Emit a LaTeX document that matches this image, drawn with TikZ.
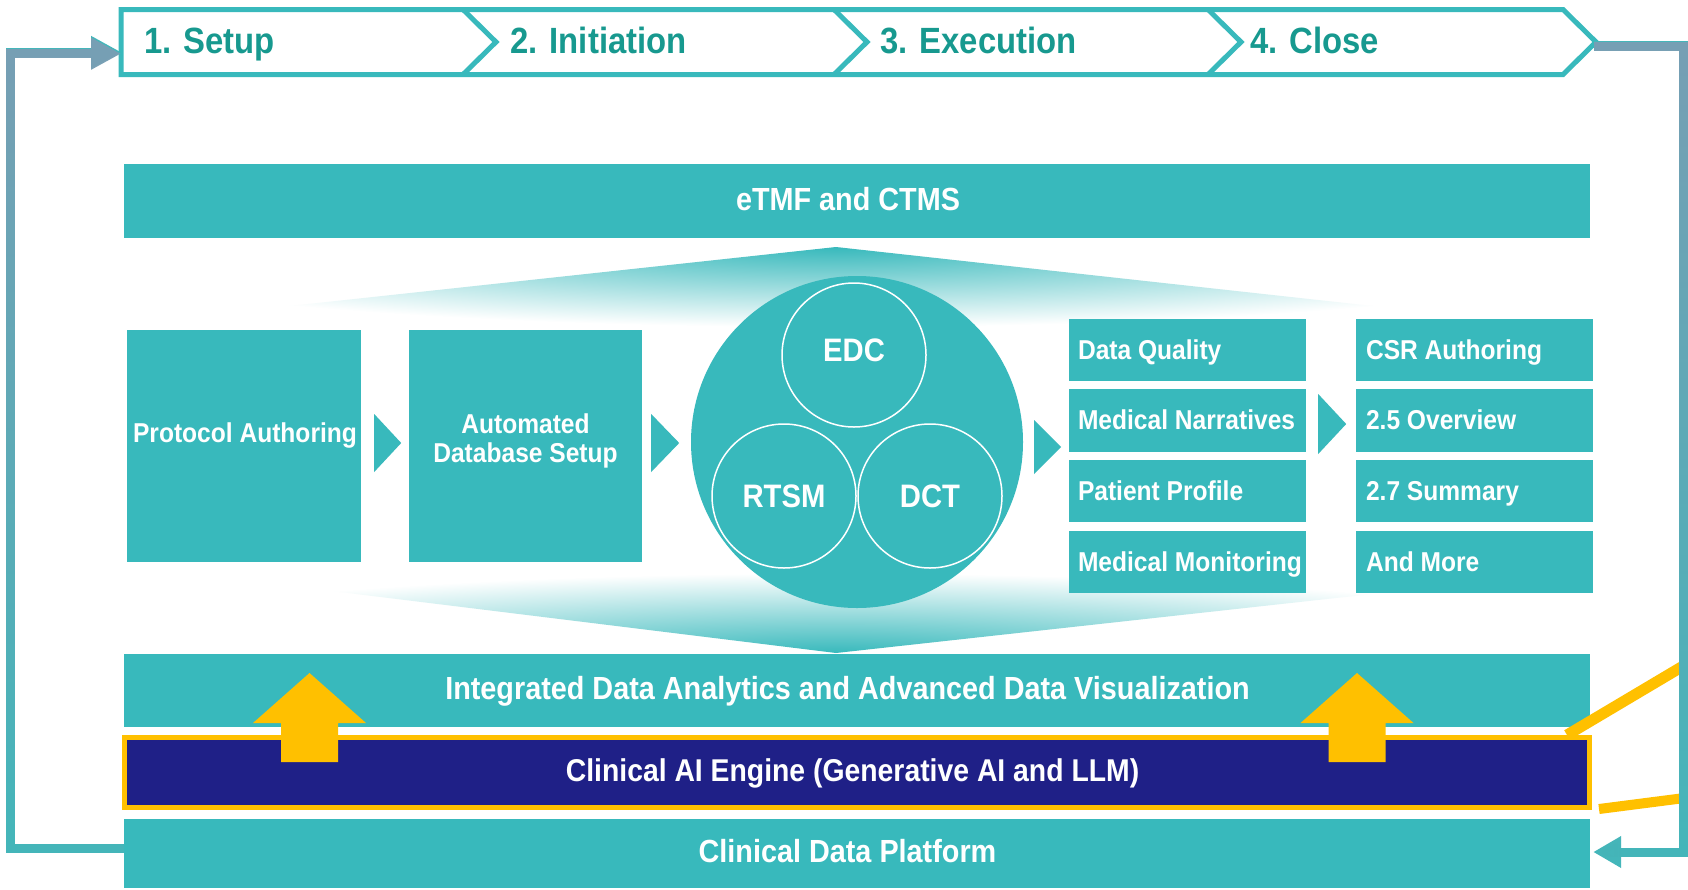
\documentclass[tikz,border=0pt]{standalone}
\usepackage{fontspec}
\setmainfont{Liberation Sans}[FakeStretch=0.9]
\usetikzlibrary{calc,arrows.meta,fadings}
\definecolor{tealc}{HTML}{38B9BC}
\definecolor{tealtxt}{HTML}{17998F}
\definecolor{navyc}{HTML}{1F2087}
\definecolor{yel}{HTML}{FFC000}
\definecolor{loopgray}{HTML}{779FB4}
\definecolor{loopteal}{HTML}{44B6BA}
\tikzfading[name=fadedown, top color=transparent!0, bottom color=transparent!100]
\begin{document}
\begin{tikzpicture}[x=1pt,y=-1pt,
 bandbar/.style={fill=tealc,text=white,inner sep=0pt,minimum width=1466pt,font=\bfseries\fontsize{32}{37}\selectfont,text height=22.9pt,text depth=4pt},
 boxc/.style={fill=tealc,inner sep=0pt},
 txt/.style={text=white,inner sep=0pt,font=\bfseries\fontsize{27.3}{29}\selectfont},
 capc/.style={text height=19.5pt,text depth=1pt},
 listbox/.style={boxc,minimum width=237pt,minimum height=62pt},
 subc/.style={circle,draw=white,line width=1.5pt,minimum size=144pt,inner sep=0pt,text=white,font=\bfseries\fontsize{32.5}{37}\selectfont,text height=23.3pt,text depth=0pt},
 stagelbl/.style={text=tealtxt,inner sep=0pt,font=\bfseries\fontsize{36.5}{42}\selectfont,anchor=base west},
 loopline/.style={line width=9pt,line join=miter},
 chev/.style={fill=tealc},
 uparrow/.style={fill=yel},
 calloutline/.style={draw=yel,line width=11pt},
]
\fill[white] (0,0) rectangle (1688,889);
\useasboundingbox (0,0) rectangle (1688,889);

% beams
\begin{scope}
 \clip (836,247) -- (58,331) -- (1600,331) -- cycle;
 \shade[inner color=tealc, outer color=white] (36,167) rectangle (1636,327);
\end{scope}
\begin{scope}
 \clip (836,653) -- (96,562) -- (1663,562) -- cycle;
 \shade[inner color=tealc, outer color=white] (36,573) rectangle (1636,733);
\end{scope}

% phase chevrons
\draw[tealc,line width=5pt,fill=white,line join=miter] (121,9.5) -- (1563,9.5) -- (1596,42) -- (1563,74.5) -- (121,74.5) -- cycle;
\draw[tealc,line width=5pt,line join=miter] (463,9.5) -- (496,42) -- (463,74.5);
\draw[tealc,line width=5pt,line join=miter] (834,9.5) -- (867,42) -- (834,74.5);
\draw[tealc,line width=5pt,line join=miter] (1208,9.5) -- (1241,42) -- (1208,74.5);
\node[stagelbl] (s1) at (144,53.5) {1. Setup};
\node[stagelbl] (s2) at (510,53.5) {2. Initiation};
\node[stagelbl] (s3) at (880,53.5) {3. Execution};
\node[stagelbl] (s4) at (1250,53.5) {4. Close};
\coordinate (hdrL) at (121,52);
\coordinate (hdrR) at (1594,45);

% bars
\node[bandbar,minimum height=74pt] (etmf) at (857,201) {eTMF and CTMS\hspace*{18pt}};
\node[bandbar,minimum height=73pt] (integ) at (857,690) {Integrated Data Analytics and Advanced Data Visualization\hspace*{19pt}};
\node[bandbar,fill=navyc,draw=yel,line width=5pt,minimum width=1465pt,minimum height=70pt,font=\bfseries\fontsize{31.5}{37}\selectfont] (ai) at (857,772.5) {Clinical AI Engine (Generative AI and LLM)\hspace*{9pt}};
\node[bandbar,minimum height=69pt] (cdp) at (857,853.5) {Clinical Data Platform\hspace*{19pt}};

% process boxes
\node[boxc,minimum width=234pt,minimum height=232pt] (proto) at (244,446) {};
\node[txt,capc] (protoT) at (245,433) {Protocol Authoring};
\node[boxc,minimum width=233pt,minimum height=232pt] (auto) at (525.5,446) {};
\node[txt,align=center] (autoT) at (525.5,441) {Automated\\Database Setup};

% hub circle
\node[circle,fill=tealc,minimum size=332pt,inner sep=0pt] (hub) at (857,442) {};
\node[subc,text depth=10pt] (edc) at (854,355) {EDC};
\node[subc] (rtsm) at (784,496) {RTSM};
\node[subc] (dct) at (930,496) {DCT};

% lists
\node[listbox] (dq) at (1187.5,350) {};
\node[listbox,minimum height=63pt] (mn) at (1187.5,420.5) {};
\node[listbox] (pp) at (1187.5,491) {};
\node[listbox] (mm) at (1187.5,562) {};
\node[listbox] (csr) at (1474.5,350) {};
\node[listbox,minimum height=63pt] (ov) at (1474.5,420.5) {};
\node[listbox] (sm) at (1474.5,491) {};
\node[listbox] (more) at (1474.5,562) {};
\node[txt,capc,anchor=west] (dqT) at ([xshift=9pt]dq.west) {Data Quality};
\node[txt,capc,anchor=west] (mnT) at ([xshift=9pt]mn.west) {Medical Narratives};
\node[txt,capc,anchor=west] (ppT) at ([xshift=9pt]pp.west) {Patient Profile};
\node[txt,capc,anchor=west] (mmT) at ([xshift=9pt]mm.west) {Medical Monitoring};
\node[txt,capc,anchor=west] (csrT) at ([xshift=10pt]csr.west) {CSR Authoring};
\node[txt,capc,anchor=west] (ovT) at ([xshift=10pt]ov.west) {2.5 Overview};
\node[txt,capc,anchor=west] (smT) at ([xshift=10pt]sm.west) {2.7 Summary};
\node[txt,capc,anchor=west] (moreT) at ([xshift=10pt]more.west) {And More};

% flow chevrons
\fill[chev] ($(proto.east)+(13,-32)$) -- ($(proto.east)+(40,-3)$) -- ($(proto.east)+(13,26)$) -- cycle;
\fill[chev] ($(auto.east)+(9,-32)$) -- ($(auto.east)+(37,-3)$) -- ($(auto.east)+(9,26)$) -- cycle;
\fill[chev] ($(hub.east)+(11,-22)$) -- ($(hub.east)+(38,5)$) -- ($(hub.east)+(11,32)$) -- cycle;
\fill[chev] ($(mn.east)+(12,-26.5)$) -- ($(mn.east)+(40,3.5)$) -- ($(mn.east)+(12,33.5)$) -- cycle;

% yellow up arrows
\fill[uparrow] (309.5,673) -- (366,723) -- (338,723) -- (338,762) -- (281,762) -- (281,723) -- (253,723) -- cycle;
\fill[uparrow] (1357,673) -- (1413.5,723) -- (1385.5,723) -- (1385.5,762) -- (1328.5,762) -- (1328.5,723) -- (1300.5,723) -- cycle;

% callout lines
\draw[calloutline] (1567,735) -- (1700,656);
\draw[calloutline,line width=10pt] (1599,809) -- (1700,796);

% feedback loops
\coordinate (lA) at ($(cdp.west)+(0,-5.5)$);
\coordinate (lB) at (10,848);
\coordinate (lC) at (10,52);
\draw[loopline,loopteal,-{Triangle[length=30pt,width=30pt]}] (lA) -- (lB) -- (lC) -- (hdrL);
\draw[loopline,loopgray,path fading=fadedown,-{Triangle[length=30pt,width=30pt]}] (lA) -- (lB) -- (lC) -- (hdrL);
\coordinate (rB) at (1683,45);
\coordinate (rC) at (1683,852);
\coordinate (rD) at ($(cdp.east)+(3,-1.5)$);
\draw[loopline,loopteal,-{Triangle[length=28pt,width=30pt]}] (hdrR) -- (rB) -- (rC) -- (rD);
\draw[loopline,loopgray,path fading=fadedown,-{Triangle[length=28pt,width=30pt]}] (hdrR) -- (rB) -- (rC) -- (rD);
\end{tikzpicture}
\end{document}
